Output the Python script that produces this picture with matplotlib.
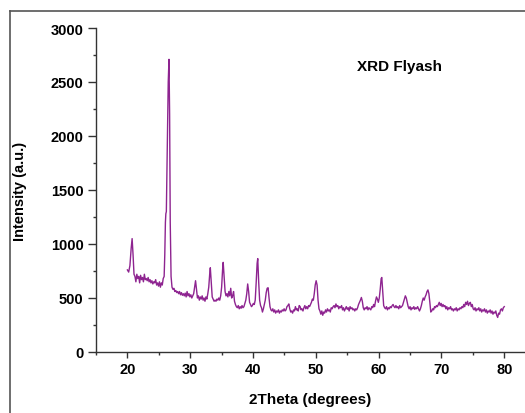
import matplotlib
matplotlib.use("Agg")
import matplotlib.pyplot as plt
from matplotlib.lines import Line2D
from matplotlib.ticker import MultipleLocator

plt.rcParams['font.family'] = ['Liberation Sans', 'DejaVu Sans']
plt.rcParams['font.weight'] = 'bold'

## XRD pattern of the fly ash sample
two_theta = [
    20.0, 20.2, 20.4, 20.6, 20.75, 20.9, 21.05, 21.2, 21.35, 21.5,
    21.65, 21.8, 21.95, 22.1, 22.25, 22.4, 22.55, 22.7, 22.85, 23.0,
    23.15, 23.3, 23.45, 23.6, 23.75, 23.9, 24.05, 24.2, 24.35, 24.5,
    24.65, 24.8, 24.95, 25.1, 25.25, 25.4, 25.55, 25.7, 25.85, 25.95,
    26.05, 26.12, 26.2, 26.35, 26.5, 26.62, 26.72, 26.82, 26.95, 27.1,
    27.25, 27.4, 27.55, 27.7, 27.85, 28.0, 28.15, 28.3, 28.45, 28.6,
    28.75, 28.9, 29.05, 29.2, 29.35, 29.5, 29.65, 29.8, 29.95, 30.1,
    30.25, 30.4, 30.55, 30.7, 30.85, 31.0, 31.15, 31.3, 31.45, 31.6,
    31.75, 31.9, 32.05, 32.2, 32.35, 32.5, 32.65, 32.8, 32.95, 33.1,
    33.2, 33.35, 33.5, 33.65, 33.8, 33.95, 34.1, 34.25, 34.4, 34.55,
    34.7, 34.85, 35.0, 35.15, 35.25, 35.4, 35.55, 35.7, 35.85, 36.0,
    36.15, 36.3, 36.45, 36.6, 36.75, 36.9, 37.05, 37.2, 37.35, 37.5,
    37.65, 37.8, 37.95, 38.1, 38.25, 38.4, 38.55, 38.7, 38.85, 39.0,
    39.15, 39.3, 39.45, 39.6, 39.75, 39.9, 40.05, 40.2, 40.35, 40.5,
    40.65, 40.75, 40.9, 41.05, 41.2, 41.35, 41.5, 41.65, 41.8, 41.95,
    42.1, 42.25, 42.4, 42.55, 42.7, 42.85, 43.0, 43.15, 43.3, 43.45,
    43.6, 43.75, 43.9, 44.05, 44.2, 44.35, 44.5, 44.65, 44.8, 44.95,
    45.1, 45.25, 45.4, 45.55, 45.7, 45.85, 46.0, 46.15, 46.3, 46.45,
    46.6, 46.75, 46.9, 47.05, 47.2, 47.35, 47.5, 47.65, 47.8, 47.95,
    48.1, 48.25, 48.4, 48.55, 48.7, 48.85, 49.0, 49.15, 49.3, 49.45,
    49.6, 49.75, 49.9, 50.05, 50.2, 50.35, 50.5, 50.65, 50.8, 50.95,
    51.1, 51.25, 51.4, 51.55, 51.7, 51.85, 52.0, 52.15, 52.3, 52.45,
    52.6, 52.75, 52.9, 53.05, 53.2, 53.35, 53.5, 53.65, 53.8, 53.95,
    54.1, 54.25, 54.4, 54.55, 54.7, 54.85, 55.0, 55.15, 55.3, 55.45,
    55.6, 55.75, 55.9, 56.05, 56.2, 56.35, 56.5, 56.65, 56.8, 56.95,
    57.1, 57.25, 57.4, 57.55, 57.7, 57.85, 58.0, 58.15, 58.3, 58.45,
    58.6, 58.75, 58.9, 59.05, 59.2, 59.35, 59.5, 59.65, 59.8, 59.95,
    60.1, 60.25, 60.4, 60.5, 60.65, 60.8, 60.95, 61.1, 61.25, 61.4,
    61.55, 61.7, 61.85, 62.0, 62.15, 62.3, 62.45, 62.6, 62.75, 62.9,
    63.05, 63.2, 63.35, 63.5, 63.65, 63.8, 63.95, 64.1, 64.25, 64.4,
    64.55, 64.7, 64.85, 65.0, 65.15, 65.3, 65.45, 65.6, 65.75, 65.9,
    66.05, 66.2, 66.35, 66.5, 66.65, 66.8, 66.95, 67.1, 67.25, 67.4,
    67.55, 67.7, 67.85, 68.0, 68.15, 68.3, 68.45, 68.6, 68.75, 68.9,
    69.05, 69.2, 69.35, 69.5, 69.65, 69.8, 69.95, 70.1, 70.25, 70.4,
    70.55, 70.7, 70.85, 71.0, 71.15, 71.3, 71.45, 71.6, 71.75, 71.9,
    72.05, 72.2, 72.35, 72.5, 72.65, 72.8, 72.95, 73.1, 73.25, 73.4,
    73.55, 73.7, 73.85, 74.0, 74.15, 74.3, 74.45, 74.6, 74.75, 74.9,
    75.05, 75.2, 75.35, 75.5, 75.65, 75.8, 75.95, 76.1, 76.25, 76.4,
    76.55, 76.7, 76.85, 77.0, 77.15, 77.3, 77.45, 77.6, 77.75, 77.9,
    78.05, 78.2, 78.35, 78.5, 78.65, 78.8, 78.95, 79.1, 79.25, 79.4,
    79.55, 79.7, 79.85, 80.0,
]
intensity = [
    760, 740, 800, 960, 1050, 900, 720, 700, 650, 720,
    680, 700, 640, 710, 670, 690, 650, 720, 670, 680,
    660, 690, 650, 670, 640, 660, 630, 650, 640, 670,
    620, 640, 610, 650, 600, 640, 620, 680, 700, 900,
    1200, 1280, 1300, 1900, 2500, 2710, 2200, 1200, 700, 600,
    580, 590, 560, 570, 550, 560, 540, 560, 530, 550,
    525, 540, 520, 545, 510, 560, 520, 540, 510, 530,
    500, 520, 540, 600, 660, 580, 500, 520, 480, 510,
    490, 520, 480, 500, 470, 510, 490, 540, 600, 720,
    780, 650, 510, 490, 470, 480, 470, 490, 480, 500,
    480, 520, 600, 760, 830, 700, 560, 520, 540, 510,
    560, 520, 590, 500, 520, 560, 470, 440, 420, 410,
    430, 400, 420, 405, 430, 410, 420, 450, 480, 540,
    630, 560, 460, 440, 420, 430, 450, 440, 480, 640,
    820, 865, 650, 480, 430, 410, 370, 400, 440, 480,
    550, 590, 595, 500, 420, 390, 380, 400, 370, 390,
    360, 380, 370, 390, 360, 380, 370, 390, 380, 400,
    380, 390, 420, 430, 445, 400, 370, 380, 360, 390,
    380, 420, 390, 400, 380, 430, 420, 390, 400, 380,
    410, 430, 400, 420, 400, 430, 420, 440, 460, 490,
    480, 540, 620, 660, 620, 480, 400, 380, 350, 380,
    340, 370, 360, 390, 370, 400, 380, 390, 370, 410,
    400, 420, 430, 410, 445, 420, 430, 400, 420, 410,
    430, 390, 410, 380, 400, 420, 395, 410, 380, 420,
    400, 410, 390, 400, 380, 400, 390, 410, 440, 460,
    480, 505, 470, 410, 390, 410, 400, 420, 390, 410,
    400, 390, 420, 410, 440, 420, 470, 510, 490, 460,
    500, 580, 680, 690, 560, 430, 410, 400, 420, 390,
    410, 400, 420, 410, 430, 440, 420, 410, 430, 410,
    420, 400, 430, 410, 420, 430, 460, 490, 520, 500,
    460, 420, 400, 420, 390, 410, 400, 420, 395, 410,
    400, 420, 400, 380, 400, 430, 470, 500, 480, 510,
    530, 560, 575, 540, 460, 370, 380, 400, 390, 420,
    410, 430, 420, 440, 460, 430, 450, 420, 440, 420,
    430, 400, 420, 390, 410, 400, 420, 390, 400, 380,
    400, 390, 410, 380, 400, 390, 410, 400, 420, 410,
    440, 420, 460, 440, 470, 430, 450, 460, 420, 440,
    400, 390, 410, 380, 400, 390, 410, 380, 400, 370,
    390, 380, 400, 370, 390, 360, 380, 370, 390, 360,
    380, 350, 370, 360, 380, 340, 320, 360, 350, 390,
    400, 380, 410, 420,
]
assert len(two_theta) == len(intensity)

x_ticks = [20, 30, 40, 50, 60, 70, 80]
y_ticks = [0, 500, 1000, 1500, 2000, 2500, 3000]

fig = plt.figure(figsize=(5.25, 4.14), dpi=100)
ax = fig.add_axes([96 / 525, 61 / 414, 1 - 96 / 525, 324 / 414])

ax.plot(two_theta, intensity, color='#8E2490', linewidth=1.0)

ax.set_xlim(15, 83.3)
ax.set_ylim(0, 3000)
ax.set_xticks(x_ticks)
ax.set_yticks(y_ticks)
ax.xaxis.set_minor_locator(MultipleLocator(5))
ax.yaxis.set_minor_locator(MultipleLocator(250))
ax.tick_params(which='major', direction='out', length=4, width=1, color='#333333',
               labelsize=10.5, pad=3)
ax.tick_params(which='minor', direction='out', length=2.5, width=1, color='#333333')
ax.tick_params(axis='y', which='major', length=6)

for side in ['top', 'right']:
    ax.spines[side].set_visible(False)
for side in ['left', 'bottom']:
    ax.spines[side].set_color('#333333')
    ax.spines[side].set_linewidth(1.0)

ax.set_xlabel('2Theta (degrees)', fontsize=11, fontweight='bold', labelpad=12)
ax.set_ylabel('Intensity (a.u.)', fontsize=10.5, fontweight='bold', labelpad=17)
ax.text(63.3, 2650, 'XRD Flyash', fontsize=11, fontweight='bold', ha='center', va='center')

# outer frame (cropped on the right and bottom)
fig.add_artist(Line2D([10 / 525, 10 / 525], [0, 1 - 12 / 414], color='#555555', linewidth=1.2))
fig.add_artist(Line2D([10 / 525, 1], [1 - 12 / 414, 1 - 12 / 414], color='#555555', linewidth=1.2))

fig.savefig('out.png', dpi=100)
